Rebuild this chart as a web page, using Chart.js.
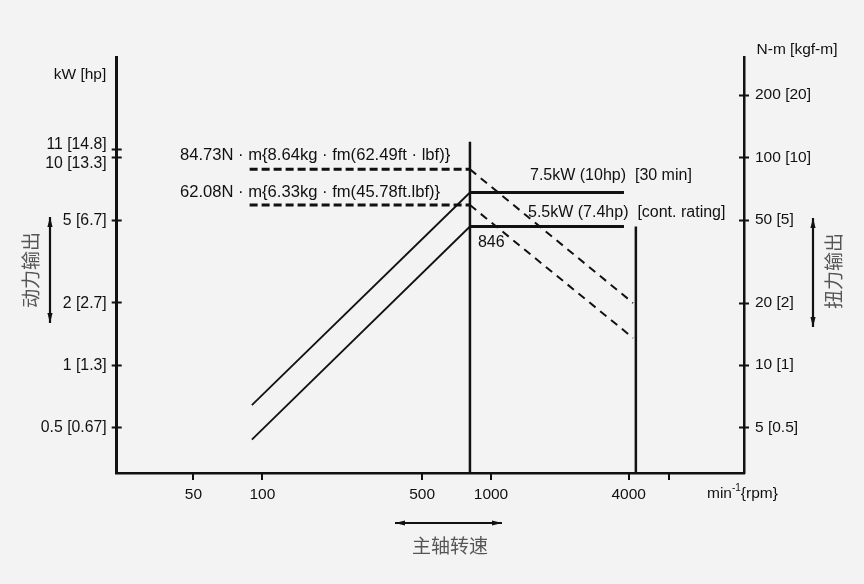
<!DOCTYPE html>
<html>
<head>
<meta charset="utf-8">
<script src="https://cdn.jsdelivr.net/npm/chart.js@4.4.1/dist/chart.umd.min.js"></script>
<style>
	html, body { margin: 0; padding: 0; background: #f3f3f3; }
	#wrap { width: 864px; height: 584px; position: relative; }
</style>
</head>
<body>
<div id="wrap"><canvas id="chart"></canvas></div>
<script>
// Spindle speed (min-1) and output
var rpm_power  = [90, 809, 3815];
var kw_30min   = [0.637, 6.77, 6.77];
var kw_cont    = [0.435, 4.64, 4.64];
var rpm_torque = [88, 809, 4180];
var nm_30min   = [87.7, 87.7, 19.9];
var nm_cont    = [59.0, 59.0, 13.5];
var rpm_base   = 809,  kw_base_top = 11.9;
var rpm_max    = 4300, kw_max_top  = 4.64;

// Axes
var x_range   = [23.08, 12775];
var x_ticks   = [50, 100, 500, 1000, 4000, 6000];
var x_labels  = ['50', '100', '500', '1000', '4000', ''];
var kw_range  = [0.3016, 30.5];
var kw_ticks  = [0.5, 1, 2, 5, 10, 11];
var kw_labels = ['0.5 [0.67]', '1 [1.3]', '2 [2.7]', '5 [6.7]', '10 [13.3]', '11 [14.8]'];
var nm_range  = [3.016, 305];
var nm_ticks  = [5, 10, 20, 50, 100, 200];
var nm_labels = ['5 [0.5]', '10 [1]', '20 [2]', '50 [5]', '100 [10]', '200 [20]'];

var FONT = '"Liberation Sans", Arial, sans-serif';
var CJK  = '"Noto Sans CJK SC", sans-serif';
var INK  = '#111';

function pts( xs, ys ) {
	return xs.map( function( x, i ) { return { x: x, y: ys[i] }; } );
}

function set_ticks( values ) {
	return function( scale ) {
		scale.ticks = values.map( function( v ) { return { value: v }; } );
	};
}

function arrow_head( ctx, x, y, ang ) {
	var len = 10, half = 2.6;
	ctx.beginPath();
	ctx.moveTo( x, y );
	ctx.lineTo( x - len * Math.cos( ang ) + half * Math.sin( ang ), y - len * Math.sin( ang ) - half * Math.cos( ang ) );
	ctx.lineTo( x - len * Math.cos( ang ) - half * Math.sin( ang ), y - len * Math.sin( ang ) + half * Math.cos( ang ) );
	ctx.closePath();
	ctx.fill();
}

function double_arrow( ctx, x1, y1, x2, y2 ) {
	var ang = Math.atan2( y2 - y1, x2 - x1 );
	ctx.lineWidth = 2.2;
	ctx.beginPath();
	ctx.moveTo( x1, y1 );
	ctx.lineTo( x2, y2 );
	ctx.stroke();
	arrow_head( ctx, x2, y2, ang );
	arrow_head( ctx, x1, y1, ang + Math.PI );
}

function vtext( ctx, str, x, y ) {
	ctx.save();
	ctx.translate( x, y );
	ctx.rotate( -Math.PI / 2 );
	ctx.fillText( str, 0, 0 );
	ctx.restore();
}

// Ticks across the axes, left labels, titles and notes
var decor = {
	id: 'decor',
	afterDraw: function( chart ) {
		var ctx = chart.ctx, a = chart.chartArea;
		var sx = chart.scales.x, sy = chart.scales.y, sr = chart.scales.yR;
		ctx.save();
		ctx.strokeStyle = INK;
		ctx.fillStyle = INK;
		ctx.lineWidth = 2;
		ctx.beginPath();
		kw_ticks.forEach( function( v ) {
			var p = Math.round( sy.getPixelForValue( v ) ) + 0.5;
			ctx.moveTo( a.left - 5, p ); ctx.lineTo( a.left + 5, p );
		} );
		nm_ticks.forEach( function( v ) {
			var p = Math.round( sr.getPixelForValue( v ) ) + 0.5;
			ctx.moveTo( a.right - 5, p ); ctx.lineTo( a.right + 5, p );
		} );
		x_ticks.forEach( function( v ) {
			var p = Math.round( sx.getPixelForValue( v ) );
			ctx.moveTo( p, a.bottom ); ctx.lineTo( p, a.bottom + 7 );
		} );
		ctx.stroke();

		// left tick labels, pushed apart where they crowd
		var items = kw_ticks.map( function( v, i ) {
			return { y: sy.getPixelForValue( v ), text: kw_labels[i] };
		} ).sort( function( p, q ) { return p.y - q.y; } );
		for ( var i = 0; i < items.length - 1; i++ ) {
			var gap = items[i + 1].y - items[i].y;
			if ( gap < 19 ) {
				var d = ( 19 - gap ) / 2;
				items[i].y -= d;
				items[i + 1].y += d;
			}
		}
		ctx.font = '15.8px ' + FONT;
		ctx.textAlign = 'right';
		ctx.textBaseline = 'middle';
		items.forEach( function( it ) { ctx.fillText( it.text, a.left - 10, it.y + 1 ); } );

		// axis titles
		ctx.font = '15.5px ' + FONT;
		ctx.textAlign = 'center';
		ctx.fillText( 'kW [hp]', 80, 75 );
		ctx.fillText( 'N-m [kgf-m]', 797, 50 );
		ctx.textAlign = 'left';
		var ux = 707, uy = 494;
		ctx.fillText( 'min', ux, uy );
		ux += ctx.measureText( 'min' ).width;
		ctx.font = '10px ' + FONT;
		ctx.fillText( '-1', ux, uy - 6 );
		ux += ctx.measureText( '-1' ).width;
		ctx.font = '15.5px ' + FONT;
		ctx.fillText( '{rpm}', ux, uy );

		// notes on the curves
		var xb = sx.getPixelForValue( rpm_base );
		ctx.font = '16.6px ' + FONT;
		ctx.fillText( '84.73N \u00b7 m{8.64kg \u00b7 fm(62.49ft \u00b7 lbf)}', 180, sr.getPixelForValue( nm_30min[0] ) - 14 );
		ctx.fillText( '62.08N \u00b7 m{6.33kg \u00b7 fm(45.78ft.lbf)}', 180, sr.getPixelForValue( nm_cont[0] ) - 13 );
		ctx.font = '16px ' + FONT;
		ctx.fillText( '7.5kW (10hp)  [30 min]', 530, sy.getPixelForValue( kw_30min[1] ) - 17 );
		ctx.fillText( '5.5kW (7.4hp)  [cont. rating]', 528, sy.getPixelForValue( kw_cont[1] ) - 14 );
		ctx.fillText( '846', xb + 8, sy.getPixelForValue( kw_cont[1] ) + 16 );

		// Chinese captions with arrows
		ctx.fillStyle = '#555';
		ctx.font = '19px ' + CJK;
		ctx.textAlign = 'center';
		vtext( ctx, '动力输出', 31, 270 );
		vtext( ctx, '扭力输出', 834, 271 );
		ctx.fillText( '主轴转速', 450, 546 );
		ctx.fillStyle = INK;
		double_arrow( ctx, 50, 217, 50, 323 );
		double_arrow( ctx, 813, 218, 813, 327 );
		double_arrow( ctx, 395, 523, 502, 523 );
		ctx.restore();
	}
};

var solid_width = function( c ) { return c.p0DataIndex === 0 ? 1.8 : 3; };
var dash_width  = function( c ) { return c.p0DataIndex === 0 ? 3 : 2; };
var dash_style  = function( c ) { return c.p0DataIndex === 0 ? [8, 4] : [8, 6]; };

var config = {
	type: 'line',
	data: {
		datasets: [
			{ label: '30 min', data: pts( rpm_power, kw_30min ), yAxisID: 'y', segment: { borderWidth: solid_width } },
			{ label: 'cont.', data: pts( rpm_power, kw_cont ), yAxisID: 'y', segment: { borderWidth: solid_width } },
			{ label: 'torque 30 min', data: pts( rpm_torque, nm_30min ), yAxisID: 'yR', segment: { borderWidth: dash_width, borderDash: dash_style } },
			{ label: 'torque cont.', data: pts( rpm_torque, nm_cont ), yAxisID: 'yR', segment: { borderWidth: dash_width, borderDash: dash_style } },
			{ label: 'base', data: [ { x: rpm_base, y: kw_range[0] }, { x: rpm_base, y: kw_base_top } ], yAxisID: 'y', borderWidth: 2.5 },
			{ label: 'max', data: [ { x: rpm_max, y: kw_range[0] }, { x: rpm_max, y: kw_max_top } ], yAxisID: 'y', borderWidth: 2.5 }
		]
	},
	options: {
		responsive: true,
		maintainAspectRatio: false,
		animation: false,
		layout: { padding: { top: 57, left: 0, right: 0, bottom: 0 } },
		elements: {
			line: { borderColor: INK, tension: 0, fill: false, borderCapStyle: 'butt' },
			point: { radius: 0, hoverRadius: 0 }
		},
		plugins: { legend: { display: false }, tooltip: { enabled: false } },
		scales: {
			x: {
				type: 'logarithmic',
				min: x_range[0],
				max: x_range[1],
				afterBuildTicks: set_ticks( x_ticks ),
				afterFit: function( s ) { s.height = 111; },
				grid: { display: false, drawTicks: false },
				border: { display: true, color: INK, width: 2.5 },
				ticks: {
					autoSkip: false, maxRotation: 0, padding: 12, color: INK,
					font: { family: FONT, size: 15.5 },
					callback: function( v, i ) { return x_labels[i]; }
				}
			},
			y: {
				type: 'logarithmic',
				position: 'left',
				min: kw_range[0],
				max: kw_range[1],
				afterBuildTicks: set_ticks( kw_ticks ),
				afterFit: function( s ) { s.width = 116.7; },
				grid: { display: false, drawTicks: false },
				border: { display: true, color: INK, width: 3 },
				ticks: { display: false }
			},
			yR: {
				type: 'logarithmic',
				position: 'right',
				min: nm_range[0],
				max: nm_range[1],
				afterBuildTicks: set_ticks( nm_ticks ),
				afterFit: function( s ) { s.width = 120; },
				grid: { display: false, drawTicks: false },
				border: { display: true, color: INK, width: 2.5 },
				ticks: {
					autoSkip: false, padding: 11, color: INK,
					font: { family: FONT, size: 15.5 },
					callback: function( v, i ) { return nm_labels[i]; }
				}
			}
		}
	},
	plugins: [ decor ]
};

new Chart( document.getElementById( 'chart' ), config );
</script>
</body>
</html>
